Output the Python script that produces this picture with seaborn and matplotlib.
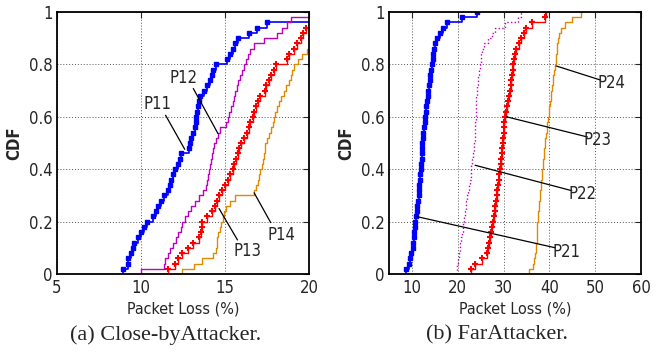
import matplotlib
matplotlib.use("Agg")
import matplotlib.pyplot as plt
import seaborn as sns

# packet loss samples (%)
p11 = [8.9, 9.2, 9.25, 9.4, 9.5, 9.6, 9.8, 10.0, 10.2, 10.35, 10.7, 10.9, 11.0, 11.2, 11.35,
       11.6, 11.7, 11.8, 11.9, 12.0, 12.2, 12.3, 12.4, 12.85, 12.9, 13.0, 13.1, 13.2, 13.25, 13.3,
       13.35, 13.4, 13.45, 13.5, 13.75, 13.9, 14.1, 14.2, 14.3, 14.45, 15.1, 15.3, 15.45, 15.6,
       15.75, 16.4, 16.9, 17.5, 21.0, 22.0]
p12 = [9.97, 11.36, 11.45, 11.6, 11.75, 11.9, 12.1, 12.2, 12.35, 12.45, 12.6, 12.8, 12.95, 13.2,
       13.45, 13.7, 13.85, 13.95, 14.0, 14.05, 14.1, 14.15, 14.2, 14.3, 14.35, 14.45, 14.6, 14.7,
       15.05, 15.15, 15.25, 15.35, 15.45, 15.55, 15.6, 15.7, 15.8, 15.9, 16.0, 16.15, 16.25, 16.35,
       16.5, 16.7, 17.3, 18.1, 18.4, 18.7, 18.9, 22.0]
p13 = [11.6, 12.0, 12.2, 12.45, 12.8, 13.1, 13.45, 13.55, 13.6, 13.65, 13.9, 14.2, 14.4, 14.5,
       14.65, 14.8, 15.0, 15.15, 15.3, 15.45, 15.55, 15.65, 15.75, 15.85, 15.95, 16.1, 16.3, 16.4,
       16.5, 16.65, 16.75, 16.85, 16.95, 17.1, 17.35, 17.45, 17.6, 17.75, 17.9, 18.05, 18.7, 18.8,
       19.1, 19.3, 19.5, 19.65, 19.8, 20.5, 21.0, 22.0]
p14 = [12.45, 13.15, 13.65, 14.3, 14.45, 14.5, 14.55, 14.6, 14.7, 14.75, 14.85, 14.95, 15.05,
       15.3, 15.6, 16.7, 16.85, 16.95, 17.05, 17.1, 17.2, 17.25, 17.3, 17.35, 17.4, 17.5, 17.6,
       17.75, 17.85, 17.9, 18.0, 18.1, 18.2, 18.35, 18.5, 18.65, 18.8, 18.9, 19.0, 19.1, 19.35,
       19.6, 19.9, 20.5, 21.0, 21.5, 22.0, 22.5, 23.0, 24.0]

p21 = [8.8, 9.3, 9.6, 9.9, 10.2, 10.3, 10.4, 10.5, 10.6, 10.7, 10.9, 11.05, 11.2, 11.35, 11.45,
       11.55, 11.65, 11.75, 11.85, 12.0, 12.05, 12.1, 12.15, 12.2, 12.3, 12.4, 12.5, 12.6, 12.75,
       12.9, 13.0, 13.15, 13.3, 13.45, 13.6, 13.75, 13.9, 14.05, 14.2, 14.35, 14.5, 14.65, 14.8,
       15.0, 15.4, 16.1, 16.8, 17.6, 20.9, 24.1]
p22 = [19.8, 19.9, 20.0, 20.2, 20.4, 20.6, 20.8, 21.0, 21.1, 21.2, 21.4, 21.6, 21.8, 21.9, 22.0,
       22.2, 22.4, 22.6, 22.8, 23.0, 23.0, 23.2, 23.4, 23.5, 23.6, 23.7, 23.75, 23.8, 23.85, 23.9,
       23.95, 24.0, 24.0, 24.05, 24.1, 24.2, 24.35, 24.5, 24.7, 24.9, 25.0, 25.1, 25.2, 25.8, 26.7,
       27.5, 28.1, 30.3, 33.2, 33.9]
p23 = [23.0, 23.8, 25.2, 26.3, 26.7, 26.9, 27.05, 27.2, 27.5, 27.75, 27.9, 28.05, 28.2, 28.35,
       28.5, 28.65, 28.8, 28.95, 29.05, 29.2, 29.35, 29.45, 29.55, 29.65, 29.8, 29.9, 30.0, 30.1,
       30.2, 30.3, 30.5, 30.7, 30.9, 31.15, 31.4, 31.55, 31.7, 31.85, 31.95, 32.1, 32.3, 32.5, 32.8,
       33.3, 33.9, 34.4, 35.0, 36.1, 39.0, 39.3]
p24 = [35.5, 36.4, 36.6, 36.8, 37.0, 37.1, 37.2, 37.3, 37.35, 37.4, 37.5, 37.6, 37.7, 37.8, 37.9,
       38.0, 38.1, 38.2, 38.3, 38.4, 38.5, 38.65, 38.8, 38.9, 39.0, 39.15, 39.3, 39.45, 39.55, 39.7,
       39.85, 40.0, 40.1, 40.25, 40.4, 40.55, 40.7, 40.85, 41.0, 41.2, 41.35, 41.5, 41.6, 41.75,
       41.9, 42.2, 42.5, 43.5, 45.0, 47.0]

left_labels = ["P11", "P12", "P13", "P14"]
right_labels = ["P21", "P22", "P23", "P24"]
left_ticks = [5, 10, 15, 20]
right_ticks = [10, 20, 30, 40, 50, 60]
y_ticks = [0, 0.2, 0.4, 0.6, 0.8, 1]
y_ticklabels = ["0", "0.2", "0.4", "0.6", "0.8", "1"]

# label text position, line start, line end
left_notes = [((10.96, 0.65), (11.46, 0.606), (12.6, 0.476)),
              ((12.55, 0.75), (13.11, 0.708), (14.58, 0.536)),
              ((16.33, 0.089), (14.64, 0.25), (15.74, 0.13)),
              ((18.36, 0.149), (16.73, 0.31), (17.72, 0.196))]
right_notes = [((43.7, 0.083), (11.1, 0.219), (41.3, 0.10)),
               ((47.3, 0.307), (23.8, 0.415), (44.9, 0.318)),
               ((50.6, 0.51), (30.65, 0.6), (48.3, 0.523)),
               ((53.6, 0.729), (41.5, 0.794), (51.2, 0.74))]

sns.set_style("white")
plt.rcParams['font.family'] = ['DejaVu Sans']
plt.rcParams['font.stretch'] = 'condensed'

blue = "#0000ff"
magenta = "#c000c0"
red = "#ff0000"
orange = "#e08a00"

fig = plt.figure(figsize=(6.57, 3.53), dpi=100)
ax1 = fig.add_axes([0.0868, 0.2238, 0.3836, 0.7422])
ax2 = fig.add_axes([0.5921, 0.2238, 0.3836, 0.7422])


def draw_panel(ax, series, magenta_ls, xlim, xticks, notes, labels):
    sns.ecdfplot(x=series[0], ax=ax, color=blue, lw=1.2, marker="s", markersize=2.5)
    sns.ecdfplot(x=series[1], ax=ax, color=magenta, lw=1.0, ls=magenta_ls)
    sns.ecdfplot(x=series[2], ax=ax, color=red, lw=1.0, marker="+", markersize=4.5, markeredgewidth=1.5)
    sns.ecdfplot(x=series[3], ax=ax, color=orange, lw=1.0)
    ax.set_xlim(*xlim)
    ax.set_ylim(0, 1)
    ax.set_xticks(xticks)
    ax.set_yticks(y_ticks)
    ax.set_yticklabels(y_ticklabels)
    ax.grid(True, color="#555555", ls=(0, (1, 2)), lw=0.7)
    ax.tick_params(direction="in", length=4, labelsize=12, top=True, right=True)
    ax.tick_params(axis="y", pad=3)
    for s in ax.spines.values():
        s.set_linewidth(1.3)
        s.set_color("black")
    ax.set_xlabel("Packet Loss (%)", fontsize=11.5, labelpad=3)
    ax.set_ylabel("CDF", fontsize=12, fontweight="bold", labelpad=4)
    for (txt, p0, p1), lab in zip(notes, labels):
        ax.plot([p0[0], p1[0]], [p0[1], p1[1]], color="black", lw=0.9)
        ax.text(txt[0], txt[1], lab, fontsize=12, ha="center", va="center")


draw_panel(ax1, [p11, p12, p13, p14], "-", (5, 20), left_ticks, left_notes, left_labels)
draw_panel(ax2, [p21, p22, p23, p24], ":", (5, 60), right_ticks, right_notes, right_labels)

fig.text(0.252, 0.05, "(a) Close-byAttacker.", fontsize=16, ha="center", va="center",
         family="Liberation Serif", stretch="normal")
fig.text(0.757, 0.05, "(b) FarAttacker.", fontsize=16, ha="center", va="center",
         family="Liberation Serif", stretch="normal")

fig.savefig("out.png", dpi=100)
